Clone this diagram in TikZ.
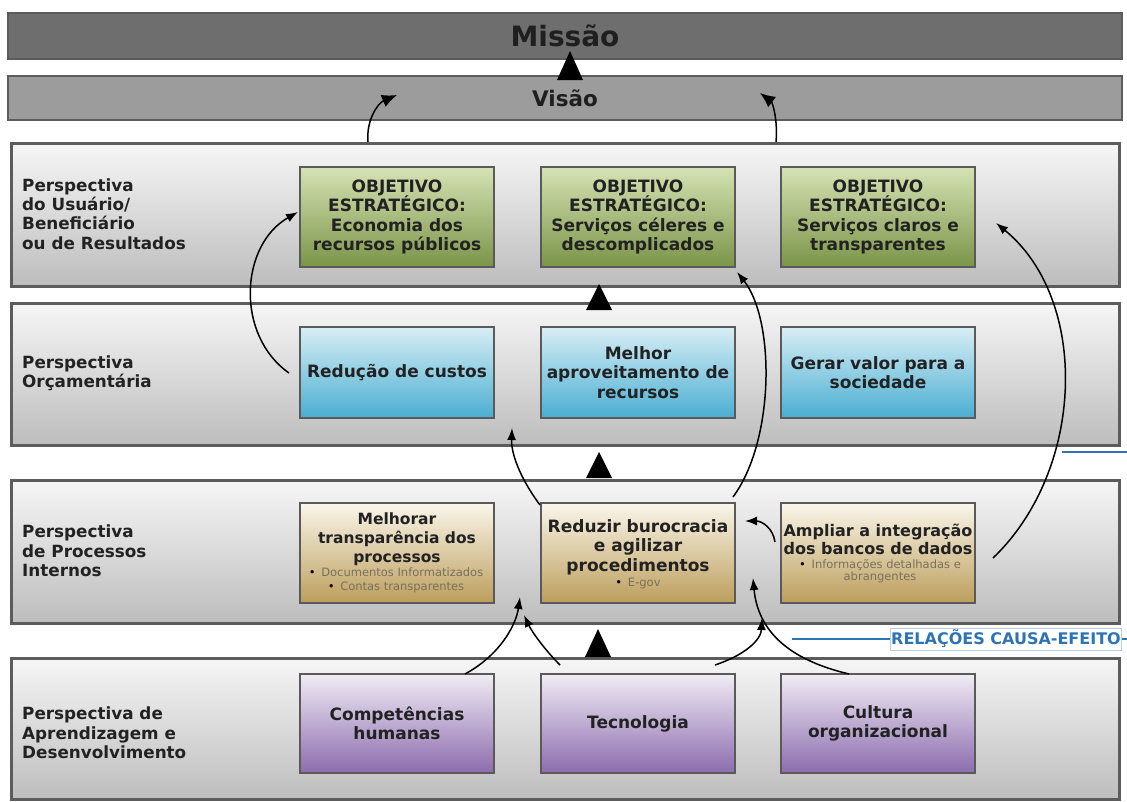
\documentclass[tikz,border=0pt]{standalone}
\usepackage{fontspec}
\setmainfont{DejaVu Sans}
\usetikzlibrary{arrows.meta,calc}
\definecolor{rowtop}{HTML}{F6F6F6}
\definecolor{rowbot}{HTML}{BDBDBD}
\definecolor{rowline}{HTML}{5C5C5C}
\definecolor{boxline}{HTML}{5A5A5A}
\definecolor{grtop}{HTML}{D6E2B4}
\definecolor{grbot}{HTML}{7A9448}
\definecolor{bltop}{HTML}{D8EEF5}
\definecolor{blbot}{HTML}{4AAED2}
\definecolor{tntop}{HTML}{FAF6EA}
\definecolor{tnbot}{HTML}{BC9E5C}
\definecolor{pptop}{HTML}{F0ECF4}
\definecolor{ppbot}{HTML}{8C6CAE}
\definecolor{txt}{HTML}{222222}
\definecolor{subtxt}{HTML}{7A705A}
\definecolor{relblue}{HTML}{2E74B5}
\definecolor{misfill}{HTML}{6E6E6E}
\definecolor{visfill}{HTML}{9C9C9C}
\begin{document}
\begin{tikzpicture}[x=1pt,y=-1pt,
  bar/.style={draw=rowline, line width=2pt, inner sep=0pt, minimum width=1114pt, anchor=north west, text=black!88},
  rowbox/.style={draw=rowline, line width=2.5pt, top color=rowtop, bottom color=rowbot, inner sep=0pt, minimum width=1108pt, anchor=north west},
  obj/.style={draw=boxline, line width=2.5pt, minimum width=194pt, inner sep=2pt, align=center, text=txt, font=\bfseries\fontsize{17}{19.5}\selectfont},
  gbox/.style={obj, top color=grtop, bottom color=grbot, minimum height=100pt},
  bbox/.style={obj, top color=bltop, bottom color=blbot, minimum height=91pt},
  tbox/.style={obj, top color=tntop, bottom color=tnbot, minimum height=100pt},
  pbox/.style={obj, top color=pptop, bottom color=ppbot, minimum height=99pt},
  ttl/.style={align=center, text=txt, inner sep=0pt},
  sub/.style={align=center, text=subtxt, inner sep=0pt, font=\fontsize{11.5}{14}\selectfont},
  lbl/.style={anchor=west, align=left, text=txt, inner sep=0pt, font=\bfseries\fontsize{16.8}{19.3}\selectfont},
  arr/.style={-{Latex[length=12pt,width=9pt]}, line width=1.5pt, black},
  bigarr/.style={-{Latex[length=15pt,width=13pt]}, line width=1.5pt, black},
  tri/.style={fill=black},
  relline/.style={draw=relblue, line width=2pt}
]
\useasboundingbox (0,0) rectangle (1127,801);
\fill[white] (0,0) rectangle (1127,801);

% Missao / Visao bars
\node[bar, fill=misfill, minimum height=46pt, font=\bfseries\fontsize{28}{32}\selectfont] (mis) at (7,12) {Missão};
\node[bar, fill=visfill, minimum height=44pt, font=\bfseries\fontsize{21.5}{24}\selectfont] (vis) at (7,75) {Visão};

% perspective rows
\node[rowbox, minimum height=143pt] (r1) at (10,142) {};
\node[rowbox, minimum height=142pt] (r2) at (10,302) {};
\node[rowbox, minimum height=143pt] (r3) at (10,479) {};
\node[rowbox, minimum height=141pt] (r4) at (10,657) {};

% row labels
\node[lbl] (l1) at (22,214) {Perspectiva\\do Usuário/\\Beneficiário\\ou de Resultados};
\node[lbl] (l2) at (22,373) {Perspectiva\\Orçamentária};
\node[lbl] (l3) at (22,551) {Perspectiva\\de Processos\\Internos};
\node[lbl] (l4) at (22,733) {Perspectiva de\\Aprendizagem e\\Desenvolvimento};

% row 1 objectives
\node[gbox] (g1) at (397,217) {OBJETIVO\\ESTRATÉGICO:\\Economia dos\\recursos públicos};
\node[gbox] (g2) at (638,217) {OBJETIVO\\ESTRATÉGICO:\\Serviços céleres e\\descomplicados};
\node[gbox] (g3) at (878,217) {OBJETIVO\\ESTRATÉGICO:\\Serviços claros e\\transparentes};

% row 2
\node[bbox] (b1) at (397,372.5) {Redução de custos};
\node[bbox] (b2) at (638,372.5) {Melhor\\aproveitamento de\\recursos};
\node[bbox] (b3) at (878,372.5) {Gerar valor para a\\sociedade};

% row 3
\node[tbox] (t1) at (397,553) {};
\node[tbox] (t2) at (638,553) {};
\node[tbox] (t3) at (878,553) {};
\node[ttl, font=\bfseries\fontsize{15.5}{19}\selectfont] (t1a) at (397,539) {Melhorar\\transparência dos\\processos};
\node[sub] (t1b) at (396,580) {{\color{black}\textbullet}\enspace Documentos Informatizados\\{\color{black}\textbullet}\enspace Contas transparentes};
\node[ttl, font=\bfseries\fontsize{17}{19.5}\selectfont] (t2a) at (638,547) {Reduzir burocracia\\e agilizar\\procedimentos};
\node[sub] (t2b) at (638,583) {{\color{black}\textbullet}\enspace E-gov};
\node[ttl, font=\bfseries\fontsize{16}{17.5}\selectfont] (t3a) at (878,539.5) {Ampliar a integração\\dos bancos de dados};
\node[sub, font=\fontsize{11.5}{12.5}\selectfont] (t3b) at (880,571) {{\color{black}\textbullet}\enspace Informações detalhadas e\\abrangentes};

% row 4
\node[pbox] (p1) at (397,723.5) {Competências\\humanas};
\node[pbox] (p2) at (638,723.5) {Tecnologia};
\node[pbox] (p3) at (878,723.5) {Cultura\\organizacional};

% up triangles
\fill[tri] (557,80) -- (570,51) -- (583,80) -- cycle;
\fill[tri] (586,310) -- (599,284) -- (612,310) -- cycle;
\fill[tri] (586,478) -- (599,452) -- (612,478) -- cycle;
\fill[tri] (585,657) -- (598,629) -- (611,657) -- cycle;

% arrow end coordinates
\coordinate (a1s) at (368,142);  \coordinate (a1e) at (397,95);
\coordinate (a2s) at (776,142);  \coordinate (a2e) at (760,93);
\coordinate (a3s) at (289,373);  \coordinate (a3e) at (298,212);
\coordinate (a4s) at (540,505);  \coordinate (a4e) at (512,428);
\coordinate (a5s) at (733,497);  \coordinate (a5e) at (737,272);
\coordinate (a6s) at (993,558);  \coordinate (a6e) at (996,223);
\coordinate (a7s) at (775,542);  \coordinate (a7e) at (745,521);
\coordinate (a8s) at (465,674);  \coordinate (a8e) at (520,597);
\coordinate (a9s) at (560,665);  \coordinate (a9e) at (524,615);
\coordinate (a10s) at (715,665); \coordinate (a10e) at (762,618);
\coordinate (a11s) at (849,674); \coordinate (a11e) at (753,578);

\draw[bigarr] (a1s) .. controls (366,120) and (378,103) .. (a1e);
\draw[bigarr] (a2s) .. controls (778,118) and (772,102) .. (a2e);
\draw[arr] (a3s) .. controls (235,335) and (240,245) .. (a3e);
\draw[arr] (a4s) .. controls (525,485) and (511,458) .. (a4e);
\draw[arr] (a5s) .. controls (775,440) and (775,320) .. (a5e);
\draw[arr] (a6s) .. controls (1085,470) and (1090,300) .. (a6e);
\draw[arr] (a7s) .. controls (773,528) and (762,521) .. (a7e);
\draw[arr] (a8s) .. controls (500,655) and (516,625) .. (a8e);
\draw[arr] (a9s) .. controls (545,650) and (532,632) .. (a9e);
\draw[arr] (a10s) .. controls (745,655) and (761,640) .. (a10e);
\draw[arr] (a11s) .. controls (790,660) and (758,632) .. (a11e);

% causa-efeito
\node[draw=relblue!35, fill=white, line width=0.8pt, inner xsep=1pt, inner ysep=2pt, text=relblue, font=\bfseries\fontsize{16}{18}\selectfont] (rel) at (1006,639) {RELAÇÕES CAUSA-EFEITO};
\coordinate (rl1) at (792,639);
\coordinate (rl2) at (1127,639);
\coordinate (rl3) at (1062,452);
\coordinate (rl4) at (1127,452);
\draw[relline] (rl1) -- (rel.west);
\draw[relline] (rel.east) -- (rl2);
\draw[relline] (rl3) -- (rl4);
\end{tikzpicture}
\end{document}
